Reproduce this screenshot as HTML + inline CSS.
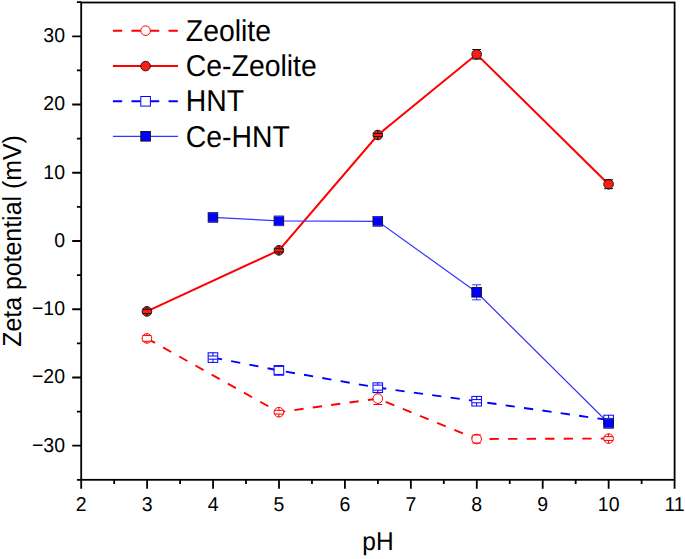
<!DOCTYPE html><html><head><meta charset="utf-8"><style>html,body{margin:0;padding:0;background:#fff;}svg{display:block;}text{font-family:"Liberation Sans",sans-serif;fill:#000;text-rendering:geometricPrecision;}</style></head><body>
<svg width="685" height="559" viewBox="0 0 685 559">
<rect width="685" height="559" fill="#fff"/>
<polyline points="146.90,338.40 278.90,412.20 377.80,398.60 476.65,439.00 608.60,438.55" fill="none" stroke="#ff0000" stroke-width="1.9" stroke-dasharray="9.27 9.27"/>
<polyline points="212.95,357.60 278.90,370.40 377.80,387.65 476.65,401.20 608.60,420.00" fill="none" stroke="#0000ff" stroke-width="1.9" stroke-dasharray="9.27 9.27"/>
<polyline points="146.90,311.40 278.90,250.35 377.80,135.00 476.65,54.30 608.60,184.20" fill="none" stroke="#ff0000" stroke-width="2"/>
<polyline points="212.95,217.40 278.90,220.90 377.80,221.30 476.65,292.30 608.60,423.30" fill="none" stroke="#3535ff" stroke-width="1.2"/>
<circle cx="146.90" cy="338.40" r="4.80" fill="#fff" stroke="#ff0000" stroke-width="1"/>
<path d="M142.40 335.55H151.40M142.40 341.25H151.40M146.90 335.55V333.40M146.90 341.25V343.40" stroke="#ff0000" stroke-width="1" fill="none"/>
<circle cx="278.90" cy="412.20" r="4.80" fill="#fff" stroke="#ff0000" stroke-width="1"/>
<path d="M274.40 410.35H283.40M274.40 414.05H283.40M278.90 410.35V407.20M278.90 414.05V417.20" stroke="#ff0000" stroke-width="1" fill="none"/>
<circle cx="377.80" cy="398.60" r="4.80" fill="#fff" stroke="#ff0000" stroke-width="1"/>
<path d="M373.30 392.70H382.30M373.30 404.50H382.30M377.80 392.70V393.60M377.80 404.50V403.60" stroke="#ff0000" stroke-width="1" fill="none"/>
<circle cx="476.65" cy="439.00" r="4.80" fill="#fff" stroke="#ff0000" stroke-width="1"/>
<path d="M472.15 435.00H481.15M472.15 443.00H481.15M476.65 435.00V434.00M476.65 443.00V444.00" stroke="#ff0000" stroke-width="1" fill="none"/>
<circle cx="608.60" cy="438.55" r="4.80" fill="#fff" stroke="#ff0000" stroke-width="1"/>
<path d="M604.10 436.65H613.10M604.10 440.45H613.10M608.60 436.65V433.55M608.60 440.45V443.55" stroke="#ff0000" stroke-width="1" fill="none"/>
<circle cx="146.90" cy="311.40" r="4.80" fill="#ff1c12" stroke="#111" stroke-width="0.9"/>
<path d="M142.40 309.30H151.40M142.40 313.50H151.40M146.90 309.30V306.40M146.90 313.50V316.40" stroke="#111" stroke-width="1" fill="none"/>
<circle cx="278.90" cy="250.35" r="4.80" fill="#ff1c12" stroke="#111" stroke-width="0.9"/>
<path d="M274.40 248.70H283.40M274.40 252.00H283.40M278.90 248.70V245.35M278.90 252.00V255.35" stroke="#111" stroke-width="1" fill="none"/>
<circle cx="377.80" cy="135.00" r="4.80" fill="#ff1c12" stroke="#111" stroke-width="0.9"/>
<path d="M373.30 133.50H382.30M373.30 136.50H382.30M377.80 133.50V130.00M377.80 136.50V140.00" stroke="#111" stroke-width="1" fill="none"/>
<circle cx="476.65" cy="54.30" r="4.80" fill="#ff1c12" stroke="#111" stroke-width="0.9"/>
<path d="M472.15 49.55H481.15M472.15 59.05H481.15M476.65 49.55V49.30M476.65 59.05V59.30" stroke="#111" stroke-width="1" fill="none"/>
<circle cx="608.60" cy="184.20" r="4.80" fill="#ff1c12" stroke="#111" stroke-width="0.9"/>
<path d="M604.10 179.75H613.10M604.10 188.65H613.10M608.60 179.75V179.20M608.60 188.65V189.20" stroke="#111" stroke-width="1" fill="none"/>
<rect x="208.15" y="352.80" width="9.60" height="9.60" fill="#fff" stroke="#0000ff" stroke-width="1"/>
<path d="M208.45 356.00H217.45M208.45 359.20H217.45M212.95 356.00V352.60M212.95 359.20V362.60" stroke="#0000ff" stroke-width="1" fill="none"/>
<rect x="274.10" y="365.60" width="9.60" height="9.60" fill="#fff" stroke="#0000ff" stroke-width="1"/>
<path d="M274.40 366.40H283.40M274.40 374.40H283.40M278.90 366.40V365.40M278.90 374.40V375.40" stroke="#0000ff" stroke-width="1" fill="none"/>
<rect x="373.00" y="382.85" width="9.60" height="9.60" fill="#fff" stroke="#0000ff" stroke-width="1"/>
<path d="M373.30 385.15H382.30M373.30 390.15H382.30M377.80 385.15V382.65M377.80 390.15V392.65" stroke="#0000ff" stroke-width="1" fill="none"/>
<rect x="471.85" y="396.40" width="9.60" height="9.60" fill="#fff" stroke="#0000ff" stroke-width="1"/>
<path d="M472.15 399.60H481.15M472.15 402.80H481.15M476.65 399.60V396.20M476.65 402.80V406.20" stroke="#0000ff" stroke-width="1" fill="none"/>
<rect x="603.80" y="415.20" width="9.60" height="9.60" fill="#fff" stroke="#0000ff" stroke-width="1"/>
<path d="M604.10 418.40H613.10M604.10 421.60H613.10M608.60 418.40V415.00M608.60 421.60V425.00" stroke="#0000ff" stroke-width="1" fill="none"/>
<rect x="208.15" y="212.60" width="9.60" height="9.60" fill="#0000ff" stroke="#111" stroke-width="0.9"/>
<path d="M208.45 212.90H217.45M208.45 221.90H217.45M212.95 212.90V212.40M212.95 221.90V222.40" stroke="#3535ff" stroke-width="1" fill="none"/>
<rect x="274.10" y="216.10" width="9.60" height="9.60" fill="#0000ff" stroke="#111" stroke-width="0.9"/>
<path d="M274.40 216.40H283.40M274.40 225.40H283.40M278.90 216.40V215.90M278.90 225.40V225.90" stroke="#3535ff" stroke-width="1" fill="none"/>
<rect x="373.00" y="216.50" width="9.60" height="9.60" fill="#0000ff" stroke="#111" stroke-width="0.9"/>
<path d="M373.30 216.80H382.30M373.30 225.80H382.30M377.80 216.80V216.30M377.80 225.80V226.30" stroke="#3535ff" stroke-width="1" fill="none"/>
<rect x="471.85" y="287.50" width="9.60" height="9.60" fill="#0000ff" stroke="#111" stroke-width="0.9"/>
<path d="M472.15 284.80H481.15M472.15 299.80H481.15M476.65 284.80V287.30M476.65 299.80V297.30" stroke="#3535ff" stroke-width="1" fill="none"/>
<rect x="603.80" y="418.50" width="9.60" height="9.60" fill="#0000ff" stroke="#111" stroke-width="0.9"/>
<path d="M604.10 418.80H613.10M604.10 427.80H613.10M608.60 418.80V418.30M608.60 427.80V428.30" stroke="#3535ff" stroke-width="1" fill="none"/>
<rect x="81.20" y="2.50" width="593.40" height="477.30" fill="none" stroke="#000" stroke-width="1.8"/>
<path d="M76.90 479.84H81.20M72.20 445.72H81.20M76.90 411.60H81.20M72.20 377.48H81.20M76.90 343.36H81.20M72.20 309.24H81.20M76.90 275.12H81.20M72.20 241.00H81.20M76.90 206.88H81.20M72.20 172.76H81.20M76.90 138.64H81.20M72.20 104.52H81.20M76.90 70.40H81.20M72.20 36.28H81.20M76.90 2.16H81.20M81.20 479.80V488.80M114.17 479.80V484.10M147.13 479.80V488.80M180.10 479.80V484.10M213.06 479.80V488.80M246.03 479.80V484.10M278.99 479.80V488.80M311.96 479.80V484.10M344.92 479.80V488.80M377.89 479.80V484.10M410.85 479.80V488.80M443.81 479.80V484.10M476.78 479.80V488.80M509.75 479.80V484.10M542.71 479.80V488.80M575.68 479.80V484.10M608.64 479.80V488.80M641.61 479.80V484.10M674.57 479.80V488.80" stroke="#000" stroke-width="1.8" fill="none"/>
<text transform="translate(65.00 451.62) scale(1 1.030)" font-size="19.5" text-anchor="end">−30</text>
<text transform="translate(65.00 383.38) scale(1 1.030)" font-size="19.5" text-anchor="end">−20</text>
<text transform="translate(65.00 315.14) scale(1 1.030)" font-size="19.5" text-anchor="end">−10</text>
<text transform="translate(65.00 246.90) scale(1 1.030)" font-size="19.5" text-anchor="end">0</text>
<text transform="translate(65.00 178.66) scale(1 1.030)" font-size="19.5" text-anchor="end">10</text>
<text transform="translate(65.00 110.42) scale(1 1.030)" font-size="19.5" text-anchor="end">20</text>
<text transform="translate(65.00 42.18) scale(1 1.030)" font-size="19.5" text-anchor="end">30</text>
<text transform="translate(81.20 511.30) scale(1 1.030)" font-size="19.5" text-anchor="middle">2</text>
<text transform="translate(147.13 511.30) scale(1 1.030)" font-size="19.5" text-anchor="middle">3</text>
<text transform="translate(213.06 511.30) scale(1 1.030)" font-size="19.5" text-anchor="middle">4</text>
<text transform="translate(278.99 511.30) scale(1 1.030)" font-size="19.5" text-anchor="middle">5</text>
<text transform="translate(344.92 511.30) scale(1 1.030)" font-size="19.5" text-anchor="middle">6</text>
<text transform="translate(410.85 511.30) scale(1 1.030)" font-size="19.5" text-anchor="middle">7</text>
<text transform="translate(476.78 511.30) scale(1 1.030)" font-size="19.5" text-anchor="middle">8</text>
<text transform="translate(542.71 511.30) scale(1 1.030)" font-size="19.5" text-anchor="middle">9</text>
<text transform="translate(608.64 511.30) scale(1 1.030)" font-size="19.5" text-anchor="middle">10</text>
<text transform="translate(674.57 511.30) scale(1 1.030)" font-size="19.5" text-anchor="middle">11</text>
<text transform="translate(20.70 241.00) rotate(-90) scale(1 1.050)" font-size="24.9" text-anchor="middle">Zeta potential (mV)</text>
<text transform="translate(378.00 549.50) scale(1 1.050)" font-size="24.5" text-anchor="middle">pH</text>
<line x1="112.90" y1="30.70" x2="178.00" y2="30.70" stroke="#ff0000" stroke-width="1.9" stroke-dasharray="9.27 9.27"/>
<circle cx="145.60" cy="30.70" r="4.80" fill="#fff" stroke="#ff0000" stroke-width="1"/>
<line x1="112.90" y1="66.10" x2="178.00" y2="66.10" stroke="#ff0000" stroke-width="2"/>
<circle cx="145.60" cy="66.10" r="4.80" fill="#ff1c12" stroke="#111" stroke-width="0.9"/>
<line x1="112.90" y1="101.30" x2="178.00" y2="101.30" stroke="#0000ff" stroke-width="1.9" stroke-dasharray="9.27 9.27"/>
<rect x="140.80" y="96.50" width="9.60" height="9.60" fill="#fff" stroke="#0000ff" stroke-width="1"/>
<line x1="112.90" y1="136.30" x2="178.00" y2="136.30" stroke="#3535ff" stroke-width="1.2"/>
<rect x="140.80" y="131.50" width="9.60" height="9.60" fill="#0000ff" stroke="#111" stroke-width="0.9"/>
<text transform="translate(185.80 40.60) scale(1 1.060)" font-size="28.4">Zeolite</text>
<text transform="translate(185.80 76.30) scale(1 1.060)" font-size="28.4">Ce-Zeolite</text>
<text transform="translate(185.80 111.40) scale(1 1.060)" font-size="28.4">HNT</text>
<text transform="translate(185.80 146.60) scale(1 1.060)" font-size="28.4">Ce-HNT</text>
</svg></body></html>
